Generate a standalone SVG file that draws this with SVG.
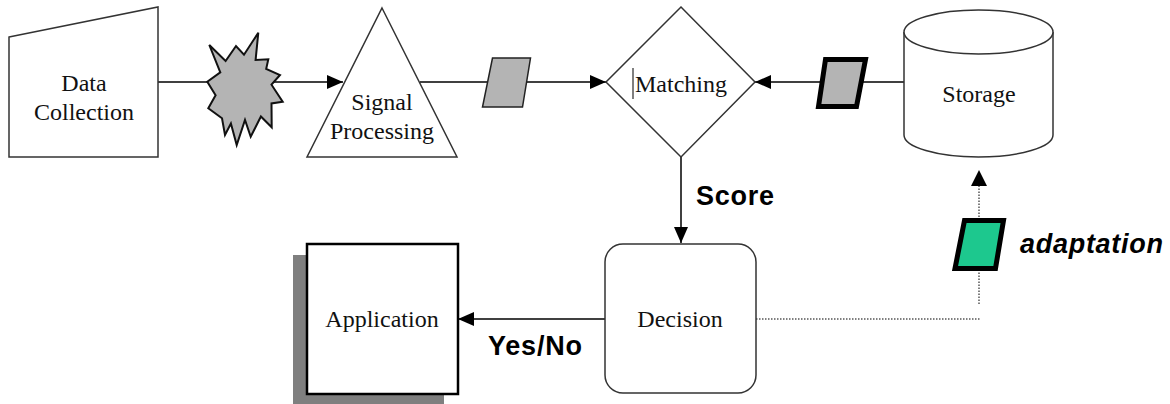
<svg xmlns="http://www.w3.org/2000/svg" width="1170" height="404" viewBox="0 0 1170 404">
  <style>
    .shape { fill: #ffffff; stroke: #333333; stroke-width: 1.5; }
    .lbl { font-family: "Liberation Serif", "Times New Roman", serif; font-size: 24px; fill: #111111; text-anchor: middle; }
    .tag { font-family: "Liberation Sans", Arial, sans-serif; font-size: 27px; font-weight: bold; fill: #000000; }
    .flow { stroke: #000000; stroke-width: 1.5; fill: none; }
    .dots { stroke: #555555; stroke-width: 1.5; stroke-dasharray: 1.5 1.5; fill: none; }
    .token { fill: #b4b4b4; stroke: #222222; stroke-width: 1.5; }
    .token-bold { fill: #b4b4b4; stroke: #000000; stroke-width: 5; stroke-linejoin: miter; }
  </style>
  <defs>
    <marker id="arrow" markerUnits="userSpaceOnUse" markerWidth="16" markerHeight="14" refX="16" refY="7" orient="auto">
      <path d="M0,0 L16,7 L0,14 Z" fill="#000000"/>
    </marker>
  </defs>

  <rect width="1170" height="404" fill="#ffffff"/>

  <!-- connectors -->
  <g id="connectors">
    <line class="flow" x1="158" y1="82" x2="343" y2="82" marker-end="url(#arrow)"/>
    <line class="flow" x1="420" y1="82" x2="606" y2="82" marker-end="url(#arrow)"/>
    <line class="flow" x1="904" y1="82" x2="755" y2="82" marker-end="url(#arrow)"/>
    <line class="flow" x1="681" y1="157" x2="681" y2="243" marker-end="url(#arrow)"/>
    <line class="flow" x1="605" y1="319" x2="458" y2="319" marker-end="url(#arrow)"/>
    <line class="dots" x1="756" y1="319" x2="980" y2="319"/>
    <line class="dots" x1="979" y1="304" x2="979" y2="186"/>
    <path d="M979,170 L987,186 L971,186 Z" fill="#000000"/>
    <text class="tag" x="696" y="205" textLength="78">Score</text>
    <text class="tag" x="488" y="355" textLength="94">Yes/No</text>
  </g>

  <!-- data tokens travelling along the flow -->
  <g id="raw-signal">
    <polygon points="209.3,45 225.6,61 236,46 244,54.7 258.3,32.7 255.6,60 268.3,59.3 266.2,68.8 280,75 271.5,84.7 282.7,101.7 271.5,103.4 271.7,127.3 260.9,116.5 250.7,136.7 245,120 236.7,145 230.9,123.6 225,135 222,118.3 208.3,108.3 215.6,95.3 207.3,81.7 220.3,72.3"
             fill="#b4b4b4" stroke="#111111" stroke-width="2" stroke-linejoin="miter"/>
  </g>
  <g id="features">
    <polygon class="token" points="492.5,58 530.5,58 522.5,107 482.5,107"/>
  </g>
  <g id="template">
    <polygon class="token-bold" points="825.5,59.5 865.5,59.5 856.5,106.5 818.5,106.5"/>
  </g>
  <g id="adaptation">
    <polygon points="964.5,220.5 1003.5,220.5 995.5,268.5 955,268.5" fill="#1dc88e" stroke="#000000" stroke-width="5"/>
    <text class="tag" x="1020" y="253" font-style="italic" textLength="143">adaptation</text>
  </g>

  <!-- nodes -->
  <g id="data-collection">
    <polygon class="shape" points="9,37 158,7 158,157 9,157"/>
    <text class="lbl" x="84" y="91">Data</text>
    <text class="lbl" x="84" y="120">Collection</text>
  </g>

  <g id="signal-processing">
    <polygon class="shape" points="382,8 457,157 307,157"/>
    <text class="lbl" x="382" y="110">Signal</text>
    <text class="lbl" x="382" y="139">Processing</text>
  </g>

  <g id="matching">
    <polygon class="shape" points="681,7 755,82 681,157 606,82"/>
    <line x1="633" y1="68" x2="633" y2="99" stroke="#555555" stroke-width="1.5"/>
    <text class="lbl" x="635" y="92" style="text-anchor:start">Matching</text>
  </g>

  <g id="storage">
    <path class="shape" d="M904,32 L904,135 A74.5,22 0 0 0 1053,135 L1053,32"/>
    <ellipse class="shape" cx="978.5" cy="32" rx="74.5" ry="22"/>
    <text class="lbl" x="979" y="102">Storage</text>
  </g>

  <g id="decision">
    <rect class="shape" x="605" y="244" width="151" height="149" rx="18" ry="18"/>
    <text class="lbl" x="680" y="327">Decision</text>
  </g>

  <g id="application">
    <rect x="293" y="255" width="151" height="150" fill="#7f7f7f"/>
    <rect x="307" y="244" width="151" height="150" fill="#ffffff" stroke="#000000" stroke-width="2.5"/>
    <text class="lbl" x="382" y="327">Application</text>
  </g>
</svg>
